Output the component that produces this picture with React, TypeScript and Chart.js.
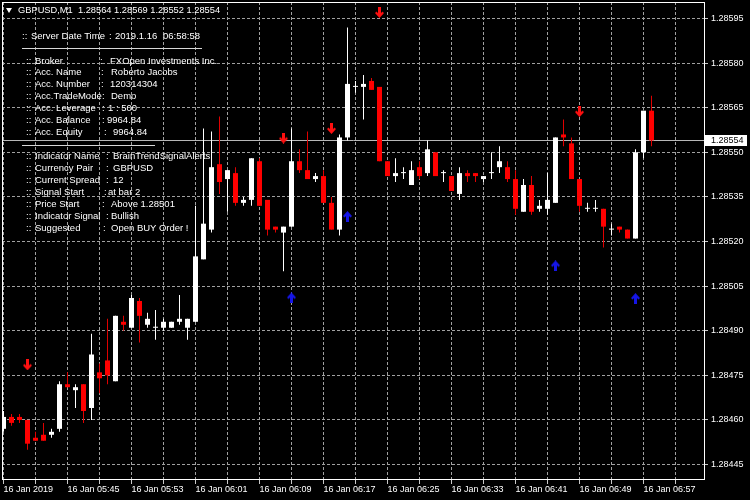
import React, { useEffect, useRef } from "react";
import { Chart, registerables } from "chart.js";
Chart.register(...registerables);

// ---------- DATA ----------
const symbolTitle = "GBPUSD,M1  1.28564 1.28569 1.28552 1.28554";

const openPrices = [
  1.28457, 1.28461, 1.28461, 1.2846, 1.28454, 1.28455, 1.28455, 1.28457, 1.28472, 1.2847,
  1.28472, 1.28464, 1.28476, 1.2848, 1.28473, 1.28493, 1.28491, 1.285, 1.28492, 1.28491,
  1.28491, 1.28491, 1.28493, 1.28491, 1.28493, 1.28514, 1.28524, 1.28546, 1.28541, 1.28543,
  1.28533, 1.28534, 1.28547, 1.28534, 1.28525, 1.28523, 1.28525, 1.28547, 1.28544, 1.28541,
  1.28542, 1.28533, 1.28524, 1.28555, 1.28572, 1.28572, 1.28574, 1.28572, 1.28547, 1.28542,
  1.28543, 1.28539, 1.28545, 1.28543, 1.2855, 1.28543, 1.28542, 1.28536, 1.28543, 1.28543,
  1.28541, 1.28543, 1.28545, 1.28545, 1.28541, 1.2853, 1.28539, 1.28531, 1.28531, 1.28533,
  1.28556, 1.28553, 1.28541, 1.28531, 1.28531, 1.28531, 1.28524, 1.28525, 1.28524, 1.28521,
  1.2855, 1.28564,
];
const highPrices = [
  1.28463, 1.28462, 1.28462, 1.2846, 1.28456, 1.28459, 1.28457, 1.28473, 1.28476, 1.28472,
  1.28472, 1.28489, 1.28479, 1.28494, 1.28495, 1.28495, 1.28502, 1.28501, 1.28496, 1.28497,
  1.28494, 1.28493, 1.28502, 1.28494, 1.28532, 1.28558, 1.28557, 1.28562, 1.28544, 1.28545,
  1.28535, 1.28548, 1.28548, 1.28534, 1.28525, 1.28525, 1.28558, 1.28551, 1.28557, 1.28543,
  1.28544, 1.28535, 1.28556, 1.28592, 1.28574, 1.28576, 1.28575, 1.28572, 1.28547, 1.28548,
  1.28545, 1.28547, 1.28547, 1.28554, 1.2855, 1.28544, 1.28542, 1.28545, 1.28544, 1.28543,
  1.28542, 1.2855, 1.28552, 1.28547, 1.28544, 1.28541, 1.28542, 1.28534, 1.28543, 1.28555,
  1.28561, 1.28555, 1.28541, 1.28533, 1.28534, 1.28531, 1.28526, 1.28525, 1.28524, 1.28551,
  1.28564, 1.28569,
];
const lowPrices = [
  1.28456, 1.28458, 1.28459, 1.2845, 1.28453, 1.28453, 1.28454, 1.28456, 1.28471, 1.28464,
  1.28459, 1.2846, 1.28469, 1.28472, 1.28473, 1.2849, 1.28491, 1.28486, 1.28491, 1.28487,
  1.2849, 1.28491, 1.28492, 1.28487, 1.28493, 1.28514, 1.28523, 1.28536, 1.2853, 1.28532,
  1.28532, 1.28532, 1.28532, 1.28522, 1.28523, 1.2851, 1.28525, 1.28543, 1.28541, 1.2854,
  1.28533, 1.28524, 1.28522, 1.28554, 1.2857, 1.28561, 1.28571, 1.28547, 1.28542, 1.2854,
  1.28541, 1.28539, 1.28541, 1.28542, 1.28542, 1.2854, 1.28537, 1.28534, 1.2854, 1.2854,
  1.2854, 1.28541, 1.28543, 1.2854, 1.28529, 1.2853, 1.28529, 1.2853, 1.28529, 1.28533,
  1.28552, 1.28541, 1.2853, 1.2853, 1.2853, 1.28518, 1.28522, 1.28523, 1.28521, 1.28521,
  1.28548, 1.28552,
];
const closePrices = [
  1.28461, 1.28459, 1.2846, 1.28452, 1.28453, 1.28453, 1.28456, 1.28472, 1.28471, 1.28471,
  1.28463, 1.28482, 1.28474, 1.28475, 1.28495, 1.28492, 1.28501, 1.28495, 1.28494, 1.28491,
  1.28493, 1.28493, 1.28494, 1.28494, 1.28515, 1.28526, 1.28545, 1.2854, 1.28544, 1.28533,
  1.28534, 1.28548, 1.28532, 1.28524, 1.28524, 1.28525, 1.28547, 1.28544, 1.28541, 1.28542,
  1.28533, 1.28524, 1.28555, 1.28573, 1.28572, 1.28573, 1.28571, 1.28547, 1.28542, 1.28543,
  1.28543, 1.28544, 1.28542, 1.28551, 1.28542, 1.28543, 1.28537, 1.28543, 1.28542, 1.28542,
  1.28542, 1.28543, 1.28547, 1.28541, 1.28531, 1.28539, 1.2853, 1.28532, 1.28534, 1.28555,
  1.28555, 1.28541, 1.28532, 1.28531, 1.28531, 1.28525, 1.28524, 1.28524, 1.28521, 1.2855,
  1.28564, 1.28554,
];

// signal arrows (bar index, price)
const sellBars = [3, 35, 41, 47, 72];
const sellArrowPrices = [1.284785, 1.285548, 1.28558, 1.28597, 1.285637];
const buyBars = [36, 43, 69, 79];
const buyArrowPrices = [1.28501, 1.285284, 1.285118, 1.285008];

// axes
const yTickValues = [1.28445, 1.2846, 1.28475, 1.2849, 1.28505, 1.2852, 1.28535, 1.2855, 1.28565, 1.2858, 1.28595];
const yTickLabels = ["1.28445", "1.28460", "1.28475", "1.28490", "1.28505", "1.28520", "1.28535", "1.28550", "1.28565", "1.28580", "1.28595"];
const xGridBars = [0, 4, 8, 12, 16, 20, 24, 28, 32, 36, 40, 44, 48, 52, 56, 60, 64, 68, 72, 76, 80, 84];
const xLabelBars = [0, 8, 16, 24, 32, 40, 48, 56, 64, 72, 80];
const xTickLabels = [
  "16 Jan 2019", "16 Jan 05:45", "16 Jan 05:53", "16 Jan 06:01", "16 Jan 06:09", "16 Jan 06:17",
  "16 Jan 06:25", "16 Jan 06:33", "16 Jan 06:41", "16 Jan 06:49", "16 Jan 06:57",
];

// info panel text
const serverRow = ["::", "Server Date Time", ":", "2019.1.16", "06:58:58"];
const accountLabels = ["Broker", "Acc. Name", "Acc. Number", "Acc.TradeMode", "Acc. Leverage", "Acc. Balance", "Acc. Equity"];
const accountValues = ["FXOpen Investments Inc.", "Roberto Jacobs", "120314304", "Demo", "1 : 500", "9964.84", "9964.84"];
const signalLabels = ["Indicator Name", "Currency Pair", "Current Spread", "Signal Start", "Price Start", "Indicator Signal", "Suggested"];
const signalValues = ["BrainTrendSignalAlerts", "GBPUSD", "12", "at bar 2", "Above 1.28501", "Bullish", "Open BUY Order !"];

// ---------- LAYOUT / STYLE ----------
const FONT = '"Liberation Sans", Arial, sans-serif';
const serverX = [22, 31, 109, 115, 163];
const serverY = 36;
const accountY = [61, 72, 84, 96, 108, 120, 132];
const accountColonX = [100, 101, 101, 102, 102, 102, 104];
const accountValueX = [110, 111, 110, 111, 108, 107, 113];
const signalY = [156, 168, 180, 192, 204, 216, 228];
const signalColonX = [106, 106, 106, 104, 102, 106, 103];
const signalValueX = [113, 113, 113, 108, 111, 111, 111];

function makeArrow(color: string, up: boolean) {
  const c = document.createElement("canvas");
  c.width = 9;
  c.height = 11;
  const g = c.getContext("2d")!;
  g.fillStyle = color;
  const pts = [[4.5, 11], [0, 6], [1.5, 4.5], [3, 6], [3, 0], [6, 0], [6, 6], [7.5, 4.5], [9, 6]];
  g.beginPath();
  pts.forEach(([x, y], k) => {
    const yy = up ? 11 - y : y;
    if (k === 0) g.moveTo(x, yy);
    else g.lineTo(x, yy);
  });
  g.closePath();
  g.fill();
  return c;
}

const Txt = ({ x, y, size, children }: { x: number; y: number; size?: number; children: React.ReactNode }) => (
  <div
    style={{
      position: "absolute",
      left: x,
      top: y - 6,
      height: 12,
      lineHeight: "12px",
      fontSize: (size || 9.5) + "px",
      fontFamily: FONT,
      color: "#ffffff",
      whiteSpace: "pre",
    }}
  >
    {children}
  </div>
);

export default function App() {
  const ref = useRef<HTMLCanvasElement | null>(null);

  useEffect(() => {
    const canvas = ref.current;
    if (!canvas) return;
    const bull = closePrices.map((c, i) => c >= openPrices[i]);
    const bodyColors = bull.map((b) => (b ? "#ffffff" : "#ff0000"));
    const wickColors = bull.map((b) => (b ? "#ffffff" : "#e00000"));
    const gridColor = "#a0a0a0";
    const tickColor = "#c8c8c8";
    const tickFont = { family: "Liberation Sans", size: 9 };

    const framePlugin = {
      id: "mtFrame",
      beforeDraw(chart: any) {
        const { ctx, width, height } = chart;
        ctx.save();
        ctx.fillStyle = "#000000";
        ctx.fillRect(0, 0, width, height);
        ctx.restore();
      },
      beforeDatasetsDraw(chart: any) {
        const { ctx, chartArea: a, scales } = chart;
        const py = Math.round(scales.y.getPixelForValue(closePrices[closePrices.length - 1]) - 0.5) + 0.5;
        ctx.save();
        ctx.strokeStyle = "#b8b8b8";
        ctx.lineWidth = 1;
        ctx.beginPath();
        ctx.moveTo(a.left, py);
        ctx.lineTo(a.right, py);
        ctx.stroke();
        ctx.restore();
      },
      afterDraw(chart: any) {
        const { ctx, chartArea: a, scales } = chart;
        ctx.save();
        ctx.strokeStyle = "#ffffff";
        ctx.lineWidth = 1;
        ctx.strokeRect(a.left + 0.5, a.top + 0.5, a.right - a.left - 1, a.bottom - a.top - 1);
        const last = closePrices[closePrices.length - 1];
        const py = Math.round(scales.y.getPixelForValue(last) - 0.5) + 0.5;
        ctx.fillStyle = "#ffffff";
        ctx.fillRect(a.right, Math.round(py - 5.5), 42, 11);
        ctx.fillStyle = "#000000";
        ctx.font = "9px " + FONT;
        ctx.textBaseline = "middle";
        ctx.textAlign = "left";
        ctx.fillText(last.toFixed(5), a.right + 6, py + 0.5);
        ctx.restore();
      },
    };

    const chart = new Chart(canvas, {
      type: "bar",
      data: {
        datasets: [
          {
            label: "body",
            data: openPrices.map((o, i) => ({ x: i, y: [o, closePrices[i]] })) as any,
            backgroundColor: bodyColors,
            borderWidth: 0,
            barThickness: 5,
            grouped: false,
            minBarLength: 1,
            inflateAmount: 0,
          } as any,
          {
            label: "wick",
            data: lowPrices.map((l, i) => ({ x: i, y: [l, highPrices[i]] })) as any,
            backgroundColor: wickColors,
            borderWidth: 0,
            barThickness: 1,
            grouped: false,
            minBarLength: 1,
            inflateAmount: 0,
          } as any,
          {
            type: "line",
            label: "sell",
            data: sellBars.map((b, k) => ({ x: b, y: sellArrowPrices[k] })),
            showLine: false,
            pointStyle: makeArrow("#ff1010", false),
            pointRadius: 5,
            clip: false,
          } as any,
          {
            type: "line",
            label: "buy",
            data: buyBars.map((b, k) => ({ x: b, y: buyArrowPrices[k] })),
            showLine: false,
            pointStyle: makeArrow("#1515e6", true),
            pointRadius: 5,
            clip: false,
          } as any,
        ],
      },
      options: {
        responsive: false,
        animation: false,
        devicePixelRatio: 1,
        layout: { autoPadding: false, padding: { left: 2, top: 2, right: 0, bottom: 0 } },
        plugins: { legend: { display: false }, tooltip: { enabled: false } },
        scales: {
          x: {
            type: "linear",
            min: -0.1875,
            max: 87.6875,
            offset: false,
            afterBuildTicks: (s: any) => {
              s.ticks = xGridBars.map((v) => ({ value: v }));
            },
            afterFit: (s: any) => {
              s.height = 20;
              s.paddingLeft = 0;
              s.paddingRight = 0;
              s.paddingTop = 0;
              s.paddingBottom = 0;
            },
            grid: {
              color: gridColor,
              lineWidth: 1,
              drawTicks: true,
              tickLength: 4,
              tickColor: tickColor,
              tickBorderDash: [],
              offset: false,
            },
            border: { display: false, dash: [3, 2] },
            ticks: {
              autoSkip: false,
              maxRotation: 0,
              minRotation: 0,
              align: "start",
              padding: 0,
              color: "#ffffff",
              font: tickFont,
              callback: (v: any) => {
                const k = xLabelBars.indexOf(Number(v));
                return k >= 0 ? xTickLabels[k] : "";
              },
            },
          } as any,
          y: {
            type: "linear",
            position: "right",
            min: 1.2843979,
            max: 1.2860055,
            beginAtZero: false,
            afterBuildTicks: (s: any) => {
              s.ticks = yTickValues.map((v) => ({ value: v }));
            },
            afterFit: (s: any) => {
              s.width = 45;
              s.paddingTop = 0;
              s.paddingBottom = 0;
              s.paddingLeft = 0;
              s.paddingRight = 0;
            },
            grid: {
              color: gridColor,
              lineWidth: 1,
              drawTicks: true,
              tickLength: 3,
              tickColor: tickColor,
              tickBorderDash: [],
            },
            border: { display: false, dash: [3, 2] },
            ticks: {
              autoSkip: false,
              padding: 3,
              color: "#ffffff",
              font: tickFont,
              callback: (_v: any, idx: number) => yTickLabels[idx],
            },
          } as any,
        },
      },
      plugins: [framePlugin],
    });
    return () => chart.destroy();
  }, []);

  return (
    <div style={{ position: "absolute", left: 0, top: 0, width: 750, height: 500, background: "#000", overflow: "hidden" }}>
      <canvas ref={ref} width={750} height={500} style={{ position: "absolute", left: 0, top: 0, width: 750, height: 500 }} />
      <div
        style={{
          position: "absolute",
          left: 6,
          top: 8,
          width: 0,
          height: 0,
          borderLeft: "3.5px solid transparent",
          borderRight: "3.5px solid transparent",
          borderTop: "5px solid #ffffff",
        }}
      />
      <Txt x={18} y={10} size={9.3}>{symbolTitle}</Txt>
      {serverRow.map((t, k) => (
        <Txt key={"s" + k} x={serverX[k]} y={serverY}>{t}</Txt>
      ))}
      <div style={{ position: "absolute", left: 22, top: 48, width: 180, height: 1, background: "#d8d8d8" }} />
      {accountLabels.map((t, k) => (
        <React.Fragment key={"a" + k}>
          <Txt x={26} y={accountY[k]}>::</Txt>
          <Txt x={35} y={accountY[k]}>{t}</Txt>
          <Txt x={accountColonX[k]} y={accountY[k]}>:</Txt>
          <Txt x={accountValueX[k]} y={accountY[k]}>{accountValues[k]}</Txt>
        </React.Fragment>
      ))}
      <div style={{ position: "absolute", left: 22, top: 145, width: 133, height: 1, background: "#d8d8d8" }} />
      {signalLabels.map((t, k) => (
        <React.Fragment key={"g" + k}>
          <Txt x={26} y={signalY[k]}>::</Txt>
          <Txt x={35} y={signalY[k]}>{t}</Txt>
          <Txt x={signalColonX[k]} y={signalY[k]}>:</Txt>
          <Txt x={signalValueX[k]} y={signalY[k]}>{signalValues[k]}</Txt>
        </React.Fragment>
      ))}
    </div>
  );
}
